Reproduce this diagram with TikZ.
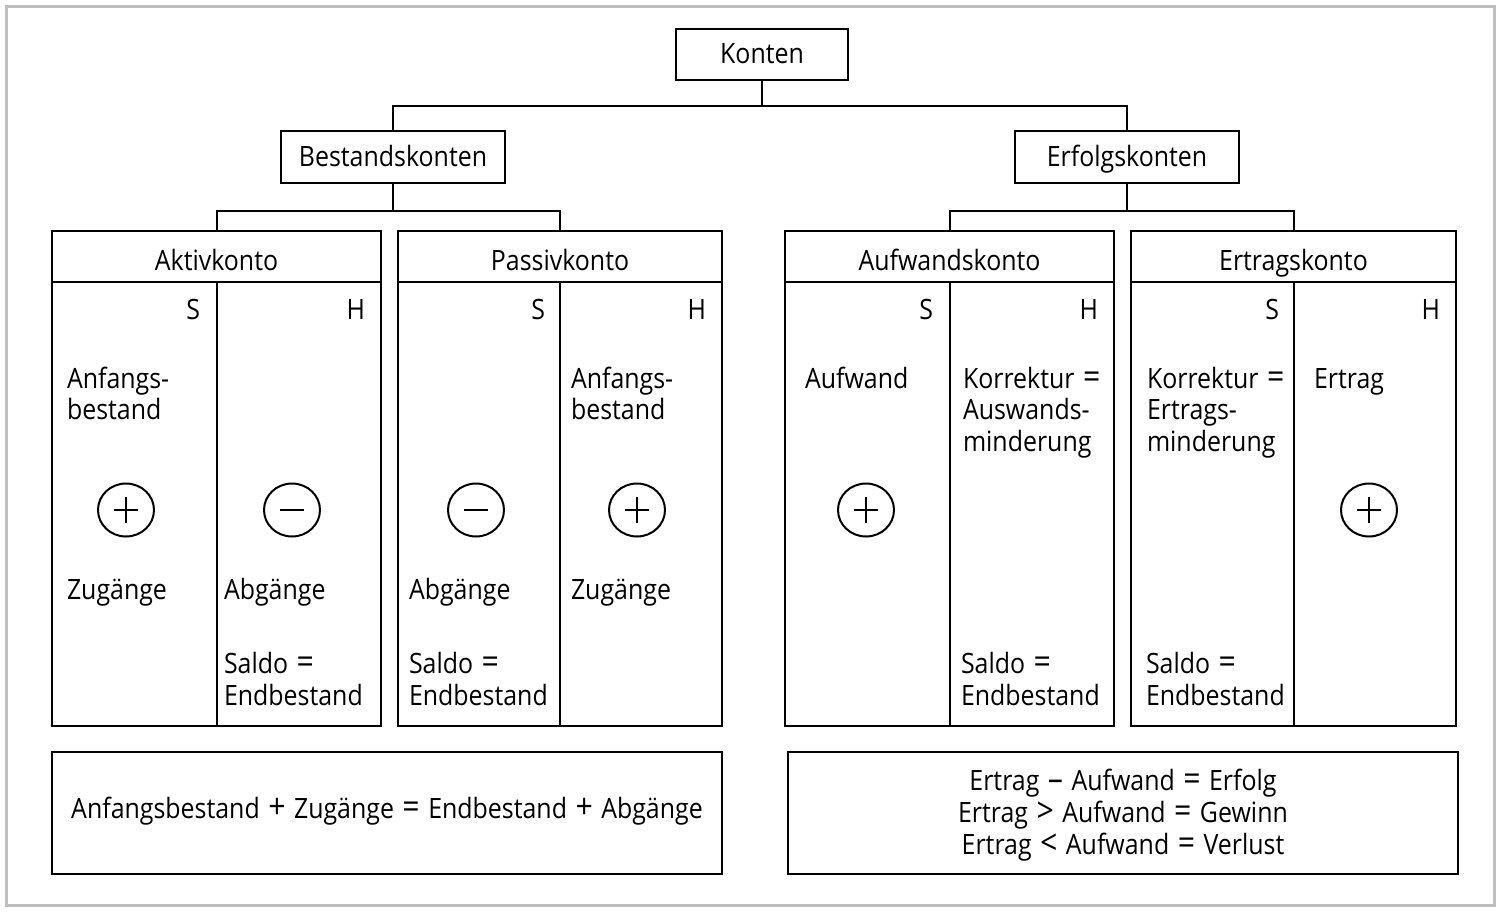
\documentclass[tikz,border=0pt]{standalone}
\usepackage{fontspec}
\setmainfont{Open Sans}[FakeStretch=0.89]
\usetikzlibrary{shapes.geometric}
\newcommand{\opsym}[1]{\kern1pt\relax{\fontsize{17}{17}\selectfont#1}\kern1pt\relax}
\begin{document}
\begin{tikzpicture}[x=0.5pt,y=-0.5pt,line width=1pt,
  font=\fontsize{14}{15.75}\selectfont,
  box/.style={draw,inner sep=0pt,rectangle},
  titlebox/.style={box,text height=9pt,text depth=0pt},
  lbl/.style={inner sep=0pt,anchor=base west,align=left},
  rlbl/.style={inner sep=0pt,anchor=base east},
  clbl/.style={inner sep=0pt,anchor=base},
  sign/.style={draw,ellipse,minimum width=28pt,minimum height=26.5pt,inner sep=0pt}]
\useasboundingbox (0,0) rectangle (1500,911);
\draw[line width=1.5pt,color=black!25] (6,6) rectangle (1494,905);
% top level
\node[titlebox,minimum width=86pt,minimum height=25.5pt] (konten) at (762,54.5) {Konten};
\node[titlebox,minimum width=112pt,minimum height=26pt] (best) at (393,157) {Bestandskonten};
\node[titlebox,minimum width=112pt,minimum height=26pt] (erf) at (1127,157) {Erfolgskonten};
\draw (konten.south) -- ++(0,25) -| (best.north);
\draw (konten.south) -- ++(0,25) -| (erf.north);
% account boxes
\node[box,minimum width=164.5pt,minimum height=247.5pt] (aktiv) at (216.5,478.5) {};
\node[box,minimum width=162pt,minimum height=247.5pt] (passiv) at (560,478.5) {};
\node[box,minimum width=164.5pt,minimum height=247.5pt] (aufw) at (949.5,478.5) {};
\node[box,minimum width=162.5pt,minimum height=247.5pt] (ertr) at (1293.5,478.5) {};
\draw (best.south) -- ++(0,27) -| (aktiv.north);
\draw (best.south) -- ++(0,27) -| (passiv.north);
\draw (erf.south) -- ++(0,27) -| (aufw.north);
\draw (erf.south) -- ++(0,27) -| (ertr.north);
% header lines and dividers
\foreach \n in {aktiv,passiv,aufw,ertr}{
  \draw ([yshift=-26pt]\n.north west) -- ([yshift=-26pt]\n.north east);
  \draw ([yshift=-26pt]\n.north) -- (\n.south);
}
% headers
\node[clbl] (haktiv) at (216.5,270) {Aktivkonto};
\node[clbl] (hpassiv) at (560,270) {Passivkonto};
\node[clbl] (haufw) at (949.5,270) {Aufwandskonto};
\node[clbl] (hertr) at (1293.5,270) {Ertragskonto};
% S / H
\node[rlbl] (s1) at (201,319) {S};
\node[rlbl] (h1) at (366,319) {H};
\node[rlbl] (s2) at (546,319) {S};
\node[rlbl] (h2) at (707,319) {H};
\node[rlbl] (s3) at (934,319) {S};
\node[rlbl] (h3) at (1099,319) {H};
\node[rlbl] (s4) at (1280,319) {S};
\node[rlbl] (h4) at (1441,319) {H};
% Aktivkonto (anchor = baseline of last line)
\node[lbl] (a1) at (66,419.5) {Anfangs-\\bestand};
\node[lbl] (a2) at (66,599) {Zugänge};
\node[lbl] (a3) at (223,599) {Abgänge};
\node[lbl] (a4) at (223,705) {Saldo \opsym{=}\\Endbestand};
% Passivkonto
\node[lbl] (p1) at (570,419.5) {Anfangs-\\bestand};
\node[lbl] (p2) at (408,599) {Abgänge};
\node[lbl] (p3) at (570,599) {Zugänge};
\node[lbl] (p4) at (408,705) {Saldo \opsym{=}\\Endbestand};
% Aufwandskonto
\node[lbl] (u1) at (804,388) {Aufwand};
\node[lbl] (u2) at (962,451) {Korrektur \opsym{=}\\Auswands-\\minderung};
\node[lbl] (u3) at (960,705) {Saldo \opsym{=}\\Endbestand};
% Ertragskonto
\node[lbl] (e1) at (1146,451) {Korrektur \opsym{=}\\Ertrags-\\minderung};
\node[lbl] (e2) at (1313,388) {Ertrag};
\node[lbl] (e3) at (1145,705) {Saldo \opsym{=}\\Endbestand};
% signs
\foreach \nm/\x/\t in {c1/126/p, c2/292/m, c3/476/m, c4/637/p, c5/866/p, c6/1369/p}{
  \node[sign] (\nm) at (\x,510) {};
  \draw ([xshift=-6pt]\nm.center) -- ([xshift=6pt]\nm.center);
  \if p\t \draw ([yshift=-6.5pt]\nm.center) -- ([yshift=6.5pt]\nm.center); \fi
}
% bottom boxes
\node[box,minimum width=335pt,minimum height=61pt] (fl) at (387,813) {};
\node[box,minimum width=335pt,minimum height=61pt] (fr) at (1123,813) {};
\node[clbl] (flt) at (387,818) {Anfangsbestand \opsym{+} Zugänge \opsym{=} Endbestand \opsym{+} Abgänge};
\node[clbl] (fr1) at (1123,790) {Ertrag \opsym{–} Aufwand \opsym{=} Erfolg};
\node[clbl] (fr2) at (1123,822) {Ertrag \opsym{>} Aufwand \opsym{=} Gewinn};
\node[clbl] (fr3) at (1123,854) {Ertrag \opsym{<} Aufwand \opsym{=} Verlust};
\end{tikzpicture}
\end{document}
